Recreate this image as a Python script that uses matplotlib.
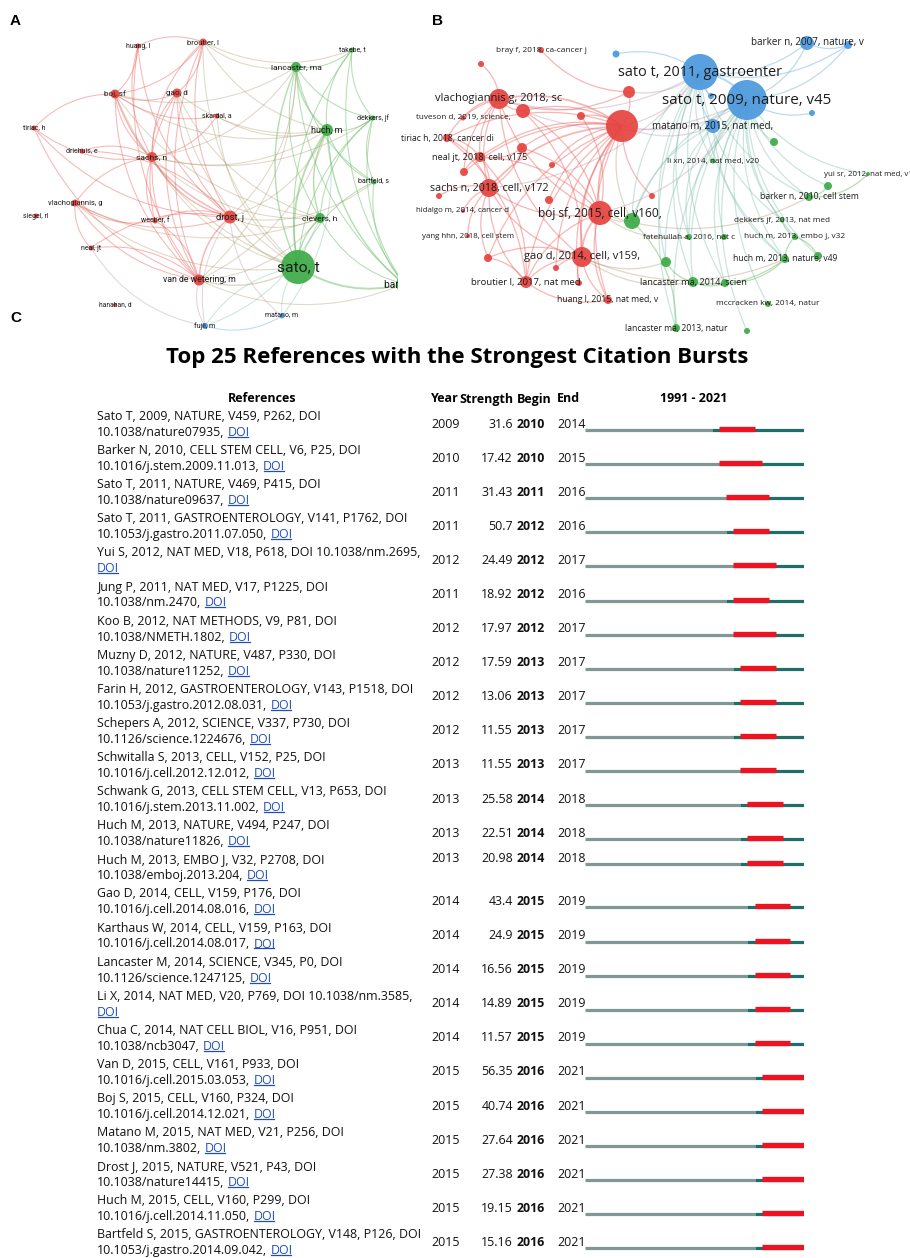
import matplotlib
matplotlib.use("Agg")
import matplotlib.pyplot as plt
from matplotlib.patches import Circle, FancyArrowPatch
from matplotlib.lines import Line2D
from matplotlib import transforms, font_manager
from matplotlib.colors import to_rgb
import numpy as np

W, H = 910, 1258

# ---------------- co-citation network of authors (panel A) ----------------
a_labels = ["broutier, l", "huang, l", "lancaster, ma", "takebe, t", "boj, sf", "gao, d",
            "skardal, a", "dekkers, jf", "huch, m", "tiriac, h", "driehuis, e", "sachs, n",
            "bartfeld, s", "vlachogiannis, g", "siegel, rl", "weeber, f", "drost, j",
            "clevers, h", "neal, jt", "sato, t", "van de wetering, m", "barker, n",
            "hanahan, d", "matano, m", "fujii, m"]
a_x = [203, 138, 296, 352, 115, 177, 217, 373, 327, 34, 82, 152, 374, 75, 36, 155, 230,
       320, 91, 298, 199, 404, 115, 282, 205]
a_y = [42, 46, 67, 50, 94, 93, 116, 118, 130, 128, 151, 157, 182, 203, 216, 221, 217,
       218, 248, 267, 280, 284, 305, 316, 326]
a_r = [3.5, 2.5, 5, 2.5, 4.5, 4.5, 2.5, 2.5, 6, 2.5, 2.5, 5, 2.5, 3.5, 2.5, 2.5, 6.5,
       5, 2.5, 17, 5.5, 8, 2, 2.5, 3]
a_cluster = ["r", "r", "g", "g", "r", "r", "r", "g", "g", "r", "r", "r", "g", "r", "r", "r",
             "r", "g", "r", "g", "r", "g", "r", "b", "b"]
a_edges = [
    ("boj", "tiriac", 1), ("boj", "broutier", 1), ("boj", "huang", 1), ("boj", "sachs", 1),
    ("boj", "drost", 2), ("boj", "van de wetering", 1), ("boj", "huch", 1), ("boj", "sato", 1),
    ("boj", "skardal", 1), ("boj", "lancaster", 1), ("boj", "clevers", 1), ("boj", "gao", 1),
    ("gao", "broutier", 1), ("gao", "sachs", 1), ("gao", "drost", 1), ("gao", "van de wetering", 1),
    ("gao", "sato", 1), ("gao", "huch", 1), ("gao", "weeber", 1), ("gao", "clevers", 1),
    ("broutier", "huang", 1), ("broutier", "sachs", 1), ("broutier", "drost", 1),
    ("broutier", "van de wetering", 1), ("broutier", "lancaster", 1), ("broutier", "takebe", 1),
    ("broutier", "huch", 1), ("broutier", "sato", 1),
    ("huang", "sachs", 1), ("huang", "drost", 1), ("huang", "van de wetering", 1),
    ("sachs", "driehuis", 1), ("sachs", "drost", 2), ("sachs", "van de wetering", 1),
    ("sachs", "vlachogiannis", 1), ("sachs", "weeber", 1), ("sachs", "huch", 1),
    ("sachs", "sato", 1), ("sachs", "clevers", 1), ("sachs", "skardal", 1),
    ("sachs", "dekkers", 1), ("sachs", "lancaster", 1),
    ("tiriac", "drost", 1), ("tiriac", "van de wetering", 1), ("tiriac", "sachs", 1),
    ("vlachogiannis", "drost", 1), ("vlachogiannis", "van de wetering", 1),
    ("vlachogiannis", "neal", 1), ("vlachogiannis", "sato", 1), ("vlachogiannis", "weeber", 1),
    ("vlachogiannis", "clevers", 1),
    ("drost", "van de wetering", 2), ("drost", "sato", 2), ("drost", "clevers", 1),
    ("drost", "huch", 1), ("drost", "weeber", 1), ("drost", "neal", 1), ("drost", "fujii", 1),
    ("drost", "matano", 1), ("drost", "driehuis", 1), ("drost", "lancaster", 1),
    ("drost", "bartfeld", 1),
    ("van de wetering", "sato", 2), ("van de wetering", "clevers", 1),
    ("van de wetering", "huch", 1), ("van de wetering", "fujii", 1),
    ("van de wetering", "weeber", 1), ("van de wetering", "neal", 1),
    ("van de wetering", "lancaster", 1), ("van de wetering", "barker", 1),
    ("neal", "fujii", 1), ("skardal", "huch", 1), ("skardal", "sato", 1),
    ("lancaster", "takebe", 1), ("lancaster", "huch", 2), ("lancaster", "sato", 2),
    ("lancaster", "clevers", 1), ("lancaster", "dekkers", 1), ("lancaster", "bartfeld", 1),
    ("lancaster", "barker", 1), ("takebe", "huch", 1), ("takebe", "sato", 1),
    ("takebe", "dekkers", 1), ("takebe", "barker", 1), ("huch", "dekkers", 1),
    ("huch", "bartfeld", 1), ("huch", "sato", 3), ("huch", "clevers", 2), ("huch", "barker", 2),
    ("dekkers", "sato", 1), ("dekkers", "barker", 1), ("dekkers", "bartfeld", 1),
    ("dekkers", "clevers", 1), ("bartfeld", "sato", 1), ("bartfeld", "barker", 1),
    ("clevers", "sato", 2), ("clevers", "barker", 1), ("sato", "barker", 3),
    ("sato", "matano", 1), ("sato", "fujii", 1), ("fujii", "matano", 1),
    ("matano", "huch", 1), ("fujii", "clevers", 1),
]

# ---------------- co-citation network of references (panel B) ----------------
b_ids = ["sato11", "sato09", "barker07", "b1", "b2", "b3", "b4", "matano",
         "hub", "vlach", "r2", "r3", "r4", "r5", "bray", "tuveson", "tiriac", "r6",
         "neal", "r7", "r8", "sachs", "r9", "r10", "hidalgo", "boj", "r11", "yang",
         "gao", "r12", "r13", "broutier", "r14", "huang",
         "g1", "g2", "lanc14", "g3", "lanc13", "g4", "mccracken", "lixn", "g5", "yui",
         "g6", "barker10", "dekkers", "fateh", "g7", "huchembo", "huchnat", "g8"]
b_labels = ["sato t, 2011, gastroenter", "sato t, 2009, nature, v45",
            "barker n, 2007, nature, v", "", "", "", "", "matano m, 2015, nat med,",
            "", "vlachogiannis g, 2018, sc", "", "", "", "", "bray f, 2018, ca-cancer j",
            "tuveson d, 2019, science,", "tiriac h, 2018, cancer di", "",
            "neal jt, 2018, cell, v175", "", "", "sachs n, 2018, cell, v172", "", "",
            "hidalgo m, 2014, cancer d", "boj sf, 2015, cell, v160,", "",
            "yang hhn, 2018, cell stem", "gao d, 2014, cell, v159,", "", "",
            "broutier l, 2017, nat med", "", "huang l, 2015, nat med, v",
            "", "", "lancaster ma, 2014, scien", "", "lancaster ma, 2013, natur", "",
            "mccracken kw, 2014, natur", "li xn, 2014, nat med, v20", "",
            "yui sr, 2012, nat med, v1", "", "barker n, 2010, cell stem",
            "dekkers jf, 2013, nat med", "fatehullah a, 2016, nat c", "",
            "huch m, 2013, embo j, v32", "huch m, 2013, nature, v49", ""]
b_x = [700, 747, 807, 848, 616, 812, 711, 713,
       622, 499, 523, 629, 581, 481, 541, 463, 447, 522,
       480, 552, 464, 489, 439, 549, 463, 600, 652, 468,
       582, 488, 556, 526, 579, 608,
       632, 666, 693, 725, 676, 747, 768, 713, 774, 868,
       828, 809, 782, 689, 724, 795, 785, 818]
b_y = [72, 100, 43, 45, 54, 113, 96, 126,
       126, 99, 111, 92, 116, 64, 50, 118, 138, 148,
       157, 165, 172, 188, 196, 200, 211, 213, 196, 236,
       257, 258, 268, 282, 283, 300,
       221, 262, 282, 283, 328, 331, 304, 161, 142, 174,
       186, 197, 220, 237, 237, 237, 259, 256]
b_r = [18, 20, 7, 4, 3.5, 3, 3, 7,
       16, 10, 7, 6, 4, 3, 3, 2.5, 4, 5,
       5, 3, 4, 9, 3, 4, 2, 12, 3, 2,
       10, 4, 3, 6, 3, 4,
       8, 5, 5, 4, 4, 3, 3, 2.5, 4, 2,
       4, 4, 2.5, 3, 3, 3, 4, 4]
b_cluster = ["b"] * 8 + ["r"] * 26 + ["g"] * 18
b_edges = [
    ("hub", "vlach", 2), ("hub", "r2", 1), ("hub", "r3", 1), ("hub", "r4", 1),
    ("hub", "sachs", 2), ("hub", "boj", 2), ("hub", "gao", 2), ("hub", "neal", 1),
    ("hub", "tiriac", 1), ("hub", "r6", 1), ("hub", "broutier", 1), ("hub", "huang", 1),
    ("hub", "r12", 1), ("hub", "r10", 1), ("hub", "r13", 1), ("hub", "r8", 1),
    ("hub", "r7", 1), ("hub", "r11", 1), ("hub", "r14", 1),
    ("vlach", "r5", 1), ("vlach", "r2", 1), ("vlach", "tuveson", 1), ("vlach", "tiriac", 1),
    ("vlach", "neal", 1), ("vlach", "sachs", 1), ("vlach", "r8", 1), ("vlach", "r3", 1),
    ("vlach", "boj", 1), ("vlach", "gao", 1), ("bray", "r3", 1),
    ("sachs", "neal", 1), ("sachs", "boj", 1), ("sachs", "gao", 1), ("sachs", "broutier", 1),
    ("sachs", "r12", 1), ("sachs", "r9", 1), ("sachs", "r6", 1), ("sachs", "tiriac", 1),
    ("sachs", "yang", 1), ("sachs", "hidalgo", 1),
    ("boj", "gao", 2), ("boj", "broutier", 1), ("boj", "huang", 1), ("boj", "neal", 1),
    ("boj", "r6", 1), ("boj", "r2", 1), ("boj", "r4", 1),
    ("gao", "broutier", 1), ("gao", "huang", 1), ("gao", "r12", 1), ("gao", "r13", 1),
    ("gao", "r14", 1), ("gao", "r2", 1),
    ("broutier", "r12", 1), ("broutier", "neal", 1), ("broutier", "tiriac", 1),
    ("broutier", "huang", 1), ("neal", "tiriac", 1), ("neal", "r8", 1), ("neal", "r6", 1),
    ("hub", "sato11", 1), ("hub", "sato09", 1), ("hub", "matano", 1), ("vlach", "sato11", 1),
    ("r3", "sato11", 1), ("r2", "sato09", 1), ("boj", "sato09", 1), ("sachs", "sato11", 1),
    ("hub", "g1", 1), ("boj", "g1", 1), ("boj", "fateh", 1), ("boj", "barker10", 1),
    ("gao", "g2", 1), ("gao", "lanc14", 1), ("gao", "huchnat", 1),
    ("sato09", "sato11", 3), ("sato09", "barker07", 1), ("sato11", "barker07", 1),
    ("sato09", "b1", 1), ("sato11", "b1", 1), ("barker07", "b1", 1), ("sato09", "matano", 1),
    ("sato11", "matano", 1), ("sato09", "b3", 1), ("sato11", "b2", 1), ("sato11", "b4", 1),
    ("sato09", "lanc14", 1), ("sato09", "lanc13", 1), ("sato09", "mccracken", 1),
    ("sato09", "barker10", 1), ("sato09", "yui", 1), ("sato09", "g6", 1),
    ("sato09", "dekkers", 1), ("sato09", "huchembo", 1), ("sato09", "huchnat", 1),
    ("sato09", "g8", 1), ("sato09", "g5", 1), ("sato09", "fateh", 1), ("sato09", "g7", 1),
    ("sato09", "g3", 1), ("sato09", "lixn", 1), ("sato09", "g1", 1), ("sato09", "g4", 1),
    ("sato11", "g1", 1), ("sato11", "g2", 1), ("sato11", "lanc14", 1), ("sato11", "lanc13", 1),
    ("sato11", "g3", 1), ("sato11", "fateh", 1), ("sato11", "dekkers", 1),
    ("sato11", "huchnat", 1), ("sato11", "barker10", 1), ("sato11", "lixn", 1),
    ("matano", "g1", 1), ("matano", "g2", 1), ("matano", "fateh", 1), ("matano", "huchnat", 1),
    ("lanc13", "g1", 1), ("lanc14", "huchnat", 1), ("barker10", "yui", 1),
    ("barker10", "g6", 1), ("huchembo", "huchnat", 1), ("dekkers", "huchembo", 1),
    ("g8", "huchembo", 1), ("g3", "huchnat", 1), ("lanc14", "g3", 1), ("g2", "lanc14", 1),
]

# ---------------- citation bursts (panel C) ----------------
ref_line1 = [
    "Sato T, 2009, NATURE, V459, P262, DOI",
    "Barker N, 2010, CELL STEM CELL, V6, P25, DOI",
    "Sato T, 2011, NATURE, V469, P415, DOI",
    "Sato T, 2011, GASTROENTEROLOGY, V141, P1762, DOI",
    "Yui S, 2012, NAT MED, V18, P618, DOI 10.1038/nm.2695,",
    "Jung P, 2011, NAT MED, V17, P1225, DOI",
    "Koo B, 2012, NAT METHODS, V9, P81, DOI",
    "Muzny D, 2012, NATURE, V487, P330, DOI",
    "Farin H, 2012, GASTROENTEROLOGY, V143, P1518, DOI",
    "Schepers A, 2012, SCIENCE, V337, P730, DOI",
    "Schwitalla S, 2013, CELL, V152, P25, DOI",
    "Schwank G, 2013, CELL STEM CELL, V13, P653, DOI",
    "Huch M, 2013, NATURE, V494, P247, DOI",
    "Huch M, 2013, EMBO J, V32, P2708, DOI",
    "Gao D, 2014, CELL, V159, P176, DOI",
    "Karthaus W, 2014, CELL, V159, P163, DOI",
    "Lancaster M, 2014, SCIENCE, V345, P0, DOI",
    "Li X, 2014, NAT MED, V20, P769, DOI 10.1038/nm.3585,",
    "Chua C, 2014, NAT CELL BIOL, V16, P951, DOI",
    "Van D, 2015, CELL, V161, P933, DOI",
    "Boj S, 2015, CELL, V160, P324, DOI",
    "Matano M, 2015, NAT MED, V21, P256, DOI",
    "Drost J, 2015, NATURE, V521, P43, DOI",
    "Huch M, 2015, CELL, V160, P299, DOI",
    "Bartfeld S, 2015, GASTROENTEROLOGY, V148, P126, DOI",
]
ref_line2 = [
    "10.1038/nature07935,", "10.1016/j.stem.2009.11.013,", "10.1038/nature09637,",
    "10.1053/j.gastro.2011.07.050,", "", "10.1038/nm.2470,", "10.1038/NMETH.1802,",
    "10.1038/nature11252,", "10.1053/j.gastro.2012.08.031,", "10.1126/science.1224676,",
    "10.1016/j.cell.2012.12.012,", "10.1016/j.stem.2013.11.002,", "10.1038/nature11826,",
    "10.1038/emboj.2013.204,", "10.1016/j.cell.2014.08.016,", "10.1016/j.cell.2014.08.017,",
    "10.1126/science.1247125,", "", "10.1038/ncb3047,", "10.1016/j.cell.2015.03.053,",
    "10.1016/j.cell.2014.12.021,", "10.1038/nm.3802,", "10.1038/nature14415,",
    "10.1016/j.cell.2014.11.050,", "10.1053/j.gastro.2014.09.042,",
]
pub_year = [2009, 2010, 2011, 2011, 2012, 2011, 2012, 2012, 2012, 2012, 2013, 2013, 2013,
            2013, 2014, 2014, 2014, 2014, 2014, 2015, 2015, 2015, 2015, 2015, 2015]
strength = [31.6, 17.42, 31.43, 50.7, 24.49, 18.92, 17.97, 17.59, 13.06, 11.55, 11.55, 25.58,
            22.51, 20.98, 43.4, 24.9, 16.56, 14.89, 11.57, 56.35, 40.74, 27.64, 27.38, 19.15,
            15.16]
burst_begin = [2010, 2010, 2011, 2012, 2012, 2012, 2012, 2013, 2013, 2013, 2013, 2014, 2014,
               2014, 2015, 2015, 2015, 2015, 2015, 2016, 2016, 2016, 2016, 2016, 2016]
burst_end = [2014, 2015, 2016, 2016, 2017, 2016, 2017, 2017, 2017, 2017, 2017, 2018, 2018,
             2018, 2019, 2019, 2019, 2019, 2019, 2021, 2021, 2021, 2021, 2021, 2021]
span_start, span_end = 1991, 2021

installed = {f.name for f in font_manager.fontManager.ttflist}
NET_A_FONT = "Liberation Sans Narrow" if "Liberation Sans Narrow" in installed else "Roboto"
NET_B_FONT = "Open Sans"
TABLE_FONT = "Open Sans"
BODY_FS = 8.9
LINK = "#1f4fb5"

node_rgb = {"r": "#e5433f", "g": "#3cab45", "b": "#4b98dd"}
edge_rgb = {"r": "#ee6f6c", "g": "#6cbf67", "b": "#7db6e8"}

fig = plt.figure(figsize=(W / 100, H / 100), dpi=100)


def px_axes(x0, y0, x1, y1):
    ax = fig.add_axes([x0 / W, 1 - y1 / H, (x1 - x0) / W, (y1 - y0) / H])
    ax.set_xlim(x0, x1)
    ax.set_ylim(y1, y0)
    ax.axis("off")
    return ax


def draw_network(ax, keys, labels, xs, ys, rs, clusters, edges, font, fs0, fsk, lw, alpha):
    pos = {k: (x, y) for k, x, y in zip(keys, xs, ys)}
    cl = dict(zip(keys, clusters))
    for u, v, w in edges:
        c = (np.array(to_rgb(edge_rgb[cl[u]])) + np.array(to_rgb(edge_rgb[cl[v]]))) / 2
        a = alpha if cl[u] == cl[v] else alpha * 0.75
        ax.add_patch(FancyArrowPatch(pos[u], pos[v], arrowstyle="-",
                                     connectionstyle="arc3,rad=0.22", lw=lw * (0.6 + 0.4 * w),
                                     color=c, alpha=a, shrinkA=0, shrinkB=0, zorder=1))
    for k, lab, x, y, r, c in zip(keys, labels, xs, ys, rs, clusters):
        ax.add_patch(Circle((x, y), r, facecolor=node_rgb[c], edgecolor="none",
                            alpha=0.92, zorder=2))
        if lab:
            ax.text(x, y, lab, ha="center", va="center", fontsize=fs0 + fsk * r,
                    family=font, color="#1c1c1c", zorder=3, clip_on=True)


ax_a = px_axes(0, 0, 398, 340)
draw_network(ax_a, [l.split(",")[0] for l in a_labels], a_labels, a_x, a_y, a_r, a_cluster,
             a_edges, NET_A_FONT, 4.0, 0.42, 0.75, 0.5)

ax_b = px_axes(400, 0, 910, 345)
draw_network(ax_b, b_ids, b_labels, b_x, b_y, b_r, b_cluster, b_edges,
             NET_B_FONT, 5.1, 0.29, 0.9, 0.5)


def fig_px(x, y):
    return x / W, 1 - y / H


for letter, (x, y) in zip("ABC", [(10, 21), (432, 21), (10, 318)]):
    fig.text(*fig_px(x, y), letter, fontsize=11, fontweight="bold",
             family="Liberation Sans", va="center", ha="left")

fig.text(*fig_px(457, 357), "Top 25 References with the Strongest Citation Bursts",
         fontsize=16, fontweight="bold", family=TABLE_FONT, ha="center", va="center")

# timeline axes: x = year, y = row index
row0, pitch = 424, 34.1
n = len(ref_line1)
top_px = row0 - 0.5 * pitch
ax_c = fig.add_axes([585 / W, 0, (804 - 585) / W, 1 - top_px / H])
ax_c.set_xlim(span_start, span_end + 1)
ax_c.set_ylim((H - row0) / pitch, -0.5)
ax_c.axis("off")

# x in figure pixels, y in row units
px_x = transforms.Affine2D().scale(1 / W, 1) + fig.transFigure
row_tf = transforms.blended_transform_factory(px_x, ax_c.transData)

hdr = dict(fontsize=9, fontweight="bold", family=TABLE_FONT, va="center", transform=row_tf)
hy = -(row0 - 399) / pitch
ax_c.text(262, hy, "References", ha="center", **hdr)
ax_c.text(431, hy, "Year", ha="left", **hdr)
ax_c.text(513, hy, "Strength", ha="right", **hdr)
ax_c.text(517, hy, "Begin", ha="left", **hdr)
ax_c.text(557, hy, "End", ha="left", **hdr)
ax_c.text(694, hy, f"{span_start} - {span_end}", ha="center", **hdr)

body = dict(fontsize=BODY_FS, family=TABLE_FONT, va="center", transform=row_tf,
            color="#111111")
doi_texts = []
cell_shift = np.zeros(n)
cell_shift[13] = -0.26
for i in range(n):
    y1 = i - 7.5 / pitch
    y2 = i + 8.5 / pitch
    ax_c.text(97, y1, ref_line1[i], ha="left", **body)
    if ref_line2[i]:
        t2 = ax_c.text(97, y2, ref_line2[i], ha="left", **body)
        d = ax_c.annotate("DOI", xy=(1, 0), xycoords=t2, xytext=(2.4, 0),
                          textcoords="offset points", ha="left", va="bottom",
                          fontsize=BODY_FS, family=TABLE_FONT, color=LINK)
    else:
        d = ax_c.text(97, y2, "DOI", ha="left", fontsize=BODY_FS, family=TABLE_FONT,
                      va="center", transform=row_tf, color=LINK)
    doi_texts.append(d)
    yc = i + cell_shift[i]
    ax_c.text(431, yc, str(pub_year[i]), ha="left", **body)
    ax_c.text(513, yc, f"{strength[i]:g}", ha="right", **body)
    ax_c.text(517, yc, str(burst_begin[i]), ha="left", fontweight="bold", **body)
    ax_c.text(557, yc, str(burst_end[i]), ha="left", **body)

    yb = yc + 6 / pitch
    ax_c.hlines(yb, span_start, pub_year[i], color="#7f9896", lw=2.3, capstyle="butt")
    ax_c.hlines(yb, pub_year[i], span_end + 1, color="#1f6e6a", lw=2.3, capstyle="butt")
    ax_c.hlines(yb - 1 / pitch, burst_begin[i], burst_end[i] + 1, color="#ef1220", lw=3.8,
                capstyle="butt")

# underline the DOI links
fig.canvas.draw()
renderer = fig.canvas.get_renderer()
inv = fig.transFigure.inverted()
for d in doi_texts:
    bb = d.get_window_extent(renderer)
    yy = bb.y0 + 0.16 * bb.height
    (x0, y0), (x1, _) = inv.transform([(bb.x0 + 0.5, yy), (bb.x1 - 1.5, yy)])
    fig.add_artist(Line2D([x0, x1], [y0, y0], color=LINK, lw=0.9))

fig.savefig("out.png", dpi=100)
